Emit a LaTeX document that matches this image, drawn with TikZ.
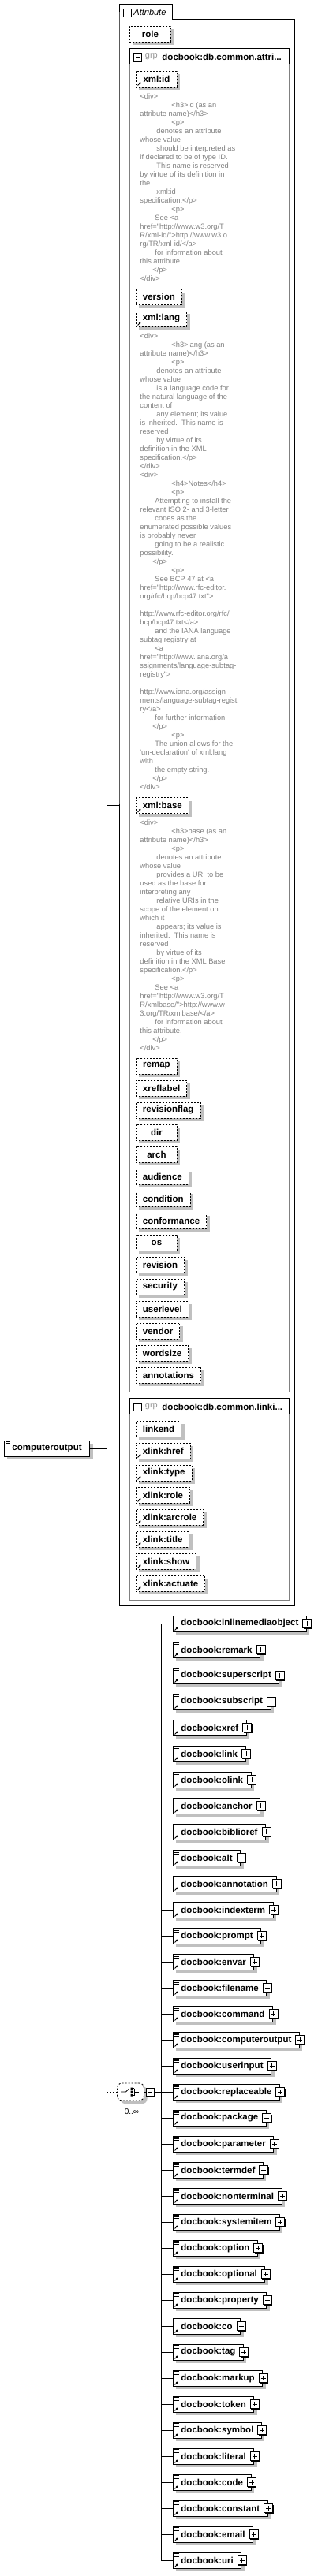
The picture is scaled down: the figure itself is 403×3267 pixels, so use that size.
\documentclass[tikz,border=0pt]{standalone}
\usepackage{fontspec}
\setmainfont{Liberation Sans}
\newfontfamily\boxfont{Liberation Sans}
\newfontfamily\docfont{Liberation Sans}
\usepackage{tikz}
\usetikzlibrary{shadows,arrows.meta}
\definecolor{shadowgray}{RGB}{192,192,192}
\definecolor{docgray}{RGB}{128,128,128}
\definecolor{grpgray}{RGB}{128,128,128}
\definecolor{grplabel}{RGB}{150,150,150}

% indents of the doc text
\newcommand{\indA}{\hspace*{40pt}}
\newcommand{\indB}{\hspace*{21pt}}
\newcommand{\indC}{\hspace*{19pt}}
\newcommand{\indD}{\hspace*{16pt}}

% small marks on the boxes
\newcommand{\refmark}[1]{\draw[line width=0.9pt,-{Triangle[length=2.4pt,width=2.8pt]}] ([shift={(2.5,-2)}]#1.south west) -- ++(4,-4);}
\newcommand{\mixmark}[1]{\draw[line width=0.8pt] ([shift={(2,2)}]#1.north west) -- ++(6,0) ([shift={(2,4)}]#1.north west) -- ++(6,0) ([shift={(2,6)}]#1.north west) -- ++(6,0);}

\tikzset{
  boxtext/.style={font=\boxfont\bfseries\fontsize{11.5}{12}\selectfont},
  attr/.style={boxtext, draw, dash pattern=on 2pt off 2pt, fill=white, anchor=west,
    minimum width=52pt, minimum height=20pt, inner xsep=8.5pt, inner ysep=0pt,
    general shadow={fill=shadowgray, shadow xshift=4pt, shadow yshift=-4pt}},
  elem/.style={boxtext, draw, fill=white, anchor=west, minimum height=20pt,
    inner xsep=10pt, inner ysep=0pt,
    general shadow={fill=shadowgray, shadow xshift=4pt, shadow yshift=-4pt}},
  doc/.style={anchor=north west, align=left, inner sep=0pt, text=docgray,
    font=\docfont\fontsize{9.3}{11}\selectfont},
  minusbox/.style={draw, fill=white, minimum size=10pt, inner sep=0pt,
    path picture={\draw ([xshift=2.5pt]path picture bounding box.west) -- ([xshift=-2.5pt]path picture bounding box.east);}},
  plusbox/.style={draw, fill=white, minimum size=11pt, inner sep=0pt,
    general shadow={fill=black, shadow xshift=1pt, shadow yshift=-1pt},
    path picture={\draw ([xshift=2.5pt]path picture bounding box.west) -- ([xshift=-2.5pt]path picture bounding box.east)
      ([yshift=-2.5pt]path picture bounding box.north) -- ([yshift=2.5pt]path picture bounding box.south);}},
  grpname/.style={anchor=west, inner sep=0pt, boxtext},
}

\begin{document}
\begin{tikzpicture}[x=1pt, y=-1pt, line width=0.9pt]
  \useasboundingbox (0,0) rectangle (403,3267);

  % the element
  \node[elem] (top) at (5,1837) {computeroutput};
  \mixmark{top}

  % attribute box with its tab
  \draw (151,24) -- (151,5) -- (218,5) -- (218,24) -- (373,24) -- (373,2036) -- (151,2036) -- cycle;
  \node[minusbox] (tabm) at (161,16.5) {};
  \node[anchor=west, inner sep=0pt, font=\boxfont\itshape\fontsize{11}{12}\selectfont] (tabt) at (169,15.5) {Attribute};
  \coordinate (attrin) at (151,1021);

  \node[attr] (role) at (164,43) {role};

  % first group
  \draw[grpgray] (164,61) rectangle (366,1765);
  \draw (164,81) -- (164,61) -- (366,61) -- (366,81);
  \node[minusbox] (g1m) at (174.5,72) {};
  \node[anchor=west, inner sep=0pt, text=grplabel, font=\boxfont\fontsize{11}{12}\selectfont] (g1k) at (183.5,72) {grp};
  \node[grpname] (g1t) at (205,72) {docbook:db.common.attri...};

  \node[attr] (xmlid) at (172,100) {xml:id};
  \refmark{xmlid}
  \node[doc] (iddoc) at (177,118.6) {<div>\\
\indA<h3>id (as an\\
attribute name)</h3>\\
\indA<p>\\
\indB denotes an attribute\\
whose value\\
\indB should be interpreted as\\
if declared to be of type ID.\\
\indB This name is reserved\\
by virtue of its definition in\\
the\\
\indB xml:id\\
specification.</p>\\
\indA<p>\\
\indC See <a\\
href="http://www.w3.org/T\\
R/xml-id/">http://www.w3.o\\
rg/TR/xml-id/</a>\\
\indC for information about\\
this attribute.\\
\indD</p>\\
</div>};

  \node[attr] (version) at (172,376.5) {version};
  \node[attr] (xmllang) at (172,404) {xml:lang};
  \refmark{xmllang}
  \node[doc] (langdoc) at (177,422.6) {<div>\\
\indA<h3>lang (as an\\
attribute name)</h3>\\
\indA<p>\\
\indB denotes an attribute\\
whose value\\
\indB is a language code for\\
the natural language of the\\
content of\\
\indB any element; its value\\
is inherited.\ \ This name is\\
reserved\\
\indB by virtue of its\\
definition in the XML\\
specification.</p>\\
</div>\\
<div>\\
\indA<h4>Notes</h4>\\
\indA<p>\\
\indC Attempting to install the\\
relevant ISO 2- and 3-letter\\
\indC codes as the\\
enumerated possible values\\
is probably never\\
\indC going to be a realistic\\
possibility.\\
\indD</p>\\
\indA<p>\\
\indC See BCP 47 at <a\\
href="http://www.rfc-editor.\\
org/rfc/bcp/bcp47.txt">\\
\mbox{}\\
http://www.rfc-editor.org/rfc/\\
bcp/bcp47.txt</a>\\
\indC and the IANA language\\
subtag registry at\\
\indC <a\\
href="http://www.iana.org/a\\
ssignments/language-subtag-\\
registry">\\
\mbox{}\\
http://www.iana.org/assign\\
ments/language-subtag-regist\\
ry</a>\\
\indC for further information.\\
\indD</p>\\
\indA<p>\\
\indC The union allows for the\\
'un-declaration' of xml:lang\\
with\\
\indC the empty string.\\
\indD</p>\\
</div>};

  \node[attr] (xmlbase) at (172,1021.5) {xml:base};
  \refmark{xmlbase}
  \node[doc] (basedoc) at (177,1039.6) {<div>\\
\indA<h3>base (as an\\
attribute name)</h3>\\
\indA<p>\\
\indB denotes an attribute\\
whose value\\
\indB provides a URI to be\\
used as the base for\\
interpreting any\\
\indB relative URIs in the\\
scope of the element on\\
which it\\
\indB appears; its value is\\
inherited.\ \ This name is\\
reserved\\
\indB by virtue of its\\
definition in the XML Base\\
specification.</p>\\
\indA<p>\\
\indC See <a\\
href="http://www.w3.org/T\\
R/xmlbase/">http://www.w\\
3.org/TR/xmlbase/</a>\\
\indC for information about\\
this attribute.\\
\indD</p>\\
</div>};

  \foreach \nm [count=\i from 0] in {remap,xreflabel,revisionflag,dir,arch,audience,condition,conformance,os,revision,security,userlevel,vendor,wordsize,annotations}
    \node[attr] (a\i) at (172,{1352+28*\i}) {\nm};

  % second group
  \draw[grpgray] (164,1773) rectangle (366,2029);
  \draw (164,1793) -- (164,1773) -- (366,1773) -- (366,1793);
  \node[minusbox] (g2m) at (174.5,1784) {};
  \node[anchor=west, inner sep=0pt, text=grplabel, font=\boxfont\fontsize{11}{12}\selectfont] (g2k) at (183.5,1784) {grp};
  \node[grpname] (g2t) at (205,1784) {docbook:db.common.linki...};

  \foreach \nm [count=\i from 0] in {linkend,xlink:href,xlink:type,xlink:role,xlink:arcrole,xlink:title,xlink:show,xlink:actuate} {
    \node[attr] (lk\i) at (172,{1812+28*\i}) {\nm};
    \ifnum\i>0 \refmark{lk\i}\fi
  }

  % choice
  \coordinate (fork) at (135,1837);
  \node[draw, fill=white, dash pattern=on 2pt off 2pt, rounded corners=6pt, minimum width=34pt, minimum height=22pt,
    general shadow={fill=shadowgray, shadow xshift=4pt, shadow yshift=-4pt}] (choice) at (165.5,2653) {};
  \draw[line width=0.8pt] (153,2653) -- (159.5,2653) -- (163.5,2649);
  \fill (165.5,2647.5) rectangle ++(2.6,2.6) (165.5,2651.7) rectangle ++(2.6,2.6) (165.5,2655.9) rectangle ++(2.6,2.6);
  \draw[line width=0.8pt] (170,2648.5) -- (170,2657.5) (170,2653) -- (176,2653) (168.5,2648.8) -- (170,2648.8) (168.5,2657.2) -- (170,2657.2);
  \node[minusbox, general shadow={fill=black, shadow xshift=1pt, shadow yshift=-1pt}] (chm) at (190,2653) {};
  \node[inner sep=0pt, font=\boxfont\fontsize{10}{11}\selectfont] (occ) at (167,2678) {0..∞};

  % connectors
  \draw (top.east) -- (fork) |- (attrin);
  \draw[dash pattern=on 2pt off 2pt] (fork) |- (choice.west);
  \draw (choice.east) -- (chm.west);

  % children of the choice
  \foreach \nm/\mx [count=\i from 0] in {inlinemediaobject/0,remark/1,superscript/1,subscript/1,xref/0,link/1,olink/1,anchor/0,biblioref/0,alt/1,annotation/0,indexterm/0,prompt/1,envar/1,filename/1,command/1,computeroutput/1,userinput/1,replaceable/1,package/1,parameter/1,termdef/1,nonterminal/1,systemitem/1,option/1,optional/1,property/1,co/0,tag/1,markup/1,token/1,symbol/1,literal/1,code/1,constant/1,email/1,uri/1} {
    \coordinate (br\i) at (204,{2059+33*\i});
    \node[elem] (ch\i) at (219,{2059+33*\i}) {docbook:\nm};
    \draw (br\i) -- (ch\i.west);
    \node[plusbox] (pl\i) at ([xshift=0.5pt]ch\i.east) {};
    \refmark{ch\i}
    \ifnum\mx=1 \mixmark{ch\i}\fi
  }
  \draw (br0) -- (br36);
  \draw (chm.east) -- (chm.east -| br0);
\end{tikzpicture}
\end{document}
